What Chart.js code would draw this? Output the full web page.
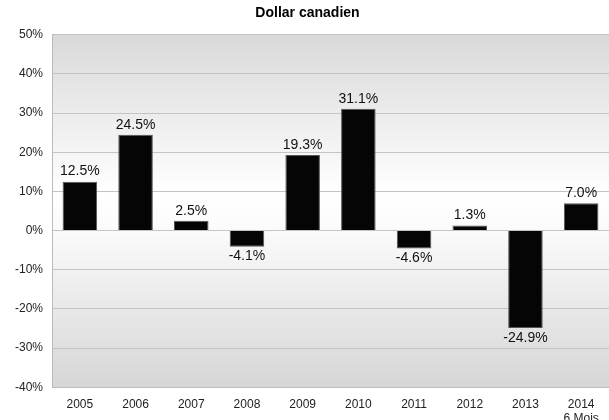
<!DOCTYPE html>
<html>
<head>
<meta charset="utf-8">
<script src="https://cdn.jsdelivr.net/npm/chart.js@4.4.0/dist/chart.umd.min.js"></script>
<style>
  html, body { margin: 0; padding: 0; background: #fff; overflow: hidden; }
  #wrap { width: 609px; height: 420px; overflow: hidden; }
</style>
</head>
<body>
<div id="wrap"><canvas id="myChart" width="609" height="428"></canvas></div>
<script>
const years = [["2005"], ["2006"], ["2007"], ["2008"], ["2009"], ["2010"], ["2011"], ["2012"], ["2013"], ["2014", "6 Mois"]];
const returns = [12.5, 24.5, 2.5, -4.1, 19.3, 31.1, -4.6, 1.3, -24.9, 7.0];
const yTicks = [-40, -30, -20, -10, 0, 10, 20, 30, 40, 50];

// fond dégradé gris / blanc / gris
const bgPlugin = {
  id: "bg",
  beforeDraw(chart) {
    const { ctx, chartArea: a } = chart;
    const g = ctx.createLinearGradient(0, a.top, 0, a.bottom);
    g.addColorStop(0, "#d9d9d9");
    g.addColorStop(0.45, "#ffffff");
    g.addColorStop(0.55, "#fbfbfb");
    g.addColorStop(1, "#d6d6d6");
    ctx.save();
    ctx.fillStyle = g;
    ctx.fillRect(a.left, a.top, a.right - a.left, a.bottom - a.top);
    ctx.restore();
  },
};

const labelPlugin = {
  id: "vals",
  afterDatasetsDraw(chart) {
    const { ctx } = chart;
    const meta = chart.getDatasetMeta(0);
    ctx.save();
    ctx.font = "14px 'Liberation Sans', Arial, sans-serif";
    ctx.fillStyle = "#111";
    ctx.textAlign = "center";
    meta.data.forEach((bar, i) => {
      const v = returns[i];
      const txt = v.toFixed(1) + "%";
      if (v >= 0) {
        ctx.textBaseline = "bottom";
        ctx.fillText(txt, bar.x, bar.y - 3);
      } else {
        ctx.textBaseline = "top";
        ctx.fillText(txt, bar.x, bar.y + 3);
      }
    });
    ctx.restore();
  },
};

new Chart("myChart", {
  type: "bar",
  data: {
    labels: years,
    datasets: [
      {
        data: returns,
        backgroundColor: "#050505",
        borderColor: "#555",
        borderWidth: 1,
        categoryPercentage: 1,
        barPercentage: 0.62,
      },
    ],
  },
  options: {
    responsive: false,
    animation: false,
    layout: { padding: { left: 6, right: 0, top: 0, bottom: 0 } },
    plugins: {
      legend: { display: false },
      tooltip: { enabled: false },
      title: {
        display: true,
        text: "Dollar canadien",
        color: "#000",
        font: { family: "'Liberation Sans', Arial, sans-serif", size: 14, weight: "bold" },
        padding: { top: 5, bottom: 13 },
      },
    },
    scales: {
      x: {
        grid: { display: false },
        border: { color: "#bbb" },
        ticks: {
          color: "#222",
          font: { family: "'Liberation Sans', Arial, sans-serif", size: 12 },
          padding: 2,
          maxRotation: 0,
          autoSkip: false,
        },
      },
      y: {
        min: -40,
        max: 50,
        afterBuildTicks(axis) {
          axis.ticks = yTicks.map((v) => ({ value: v }));
        },
        grid: { color: "#c4c4c4", drawTicks: false },
        border: { color: "#bbb" },
        ticks: {
          color: "#222",
          padding: 9,
          font: { family: "'Liberation Sans', Arial, sans-serif", size: 12 },
          callback: (v) => v + "%",
        },
      },
    },
  },
  plugins: [bgPlugin, labelPlugin],
});
</script>
</body>
</html>
